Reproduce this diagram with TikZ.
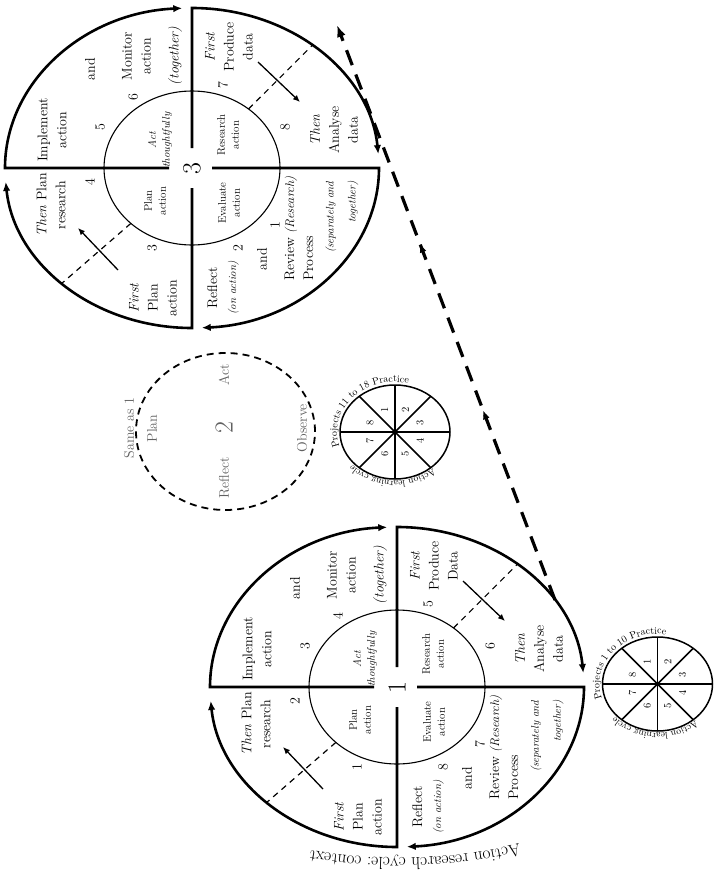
\documentclass[tikz,border=0pt]{standalone}
\usetikzlibrary{arrows.meta,decorations.text,decorations.markings}
\tikzset{
  rim/.style={line width=2.6pt,-{Latex[length=9pt,width=7.5pt]}},
  innerring/.style={line width=1.1pt},
  sepline/.style={line width=1.2pt,dash pattern=on 6pt off 5pt},
  flowarrow/.style={line width=1.3pt,-{Latex[length=7pt,width=6pt]}},
  txt/.style={rotate=90,align=center,inner sep=0pt,font=\fontsize{14}{19}\selectfont},
  smalltxt/.style={rotate=90,align=center,inner sep=0pt,font=\fontsize{11}{14}\selectfont},
  bignum/.style={rotate=90,inner sep=0pt,font=\fontsize{26}{26}\selectfont},
  ghost/.style={txt,text=black!62},
  minitxt/.style={rotate=90,inner sep=0pt,font=\fontsize{10.5}{12}\selectfont},
  miniring/.style={line width=1.5pt},
  bigdash/.style={line width=3.2pt,dash pattern=on 16pt off 10pt,-{Latex[length=12pt,width=9pt]}},
  midtip/.style={decoration={markings,
      mark=at position 0.33 with {\arrow{Latex[length=9pt,width=7pt]}},
      mark=at position 0.62 with {\arrow{Latex[length=9pt,width=7pt]}}},
    postaction={decorate}}
}
\newcommand\wheel[1]{%
  \coordinate (#1-c) at (0,0);
  \draw[innerring] (#1-c) ellipse [x radius=88pt,y radius=77pt];
  \draw[rim] (-23,0) -- (-187,0) arc[start angle=180,end angle=93,x radius=187pt,y radius=160pt];
  \draw[rim] (0,20) -- (0,160) arc[start angle=90,end angle=5,x radius=187pt,y radius=160pt];
  \draw[rim] (20,0) -- (187,0) arc[start angle=0,end angle=-87,x radius=187pt,y radius=160pt];
  \draw[rim] (0,-20) -- (0,-160) arc[start angle=270,end angle=185,x radius=187pt,y radius=160pt];
  \draw[sepline] (50:88pt and 77pt) -- (50:187pt and 160pt);
  \draw[sepline] (226:88pt and 77pt) -- (226:187pt and 160pt);
  \coordinate (#1-a1s) at (66,106); \coordinate (#1-a1e) at (108,66);
  \draw[flowarrow] (#1-a1s) -- (#1-a1e);
  \coordinate (#1-a2s) at (-74,-102); \coordinate (#1-a2e) at (-114,-60);
  \draw[flowarrow] (#1-a2s) -- (#1-a2e);
  \node[bignum] (#1-ctr) at (0,-1) {\ctr};
  % upper left
  \node[txt] (#1-impl) at (-140,38) {Implement\\action};
  \node[txt] (#1-and1) at (-102,99) {and};
  \node[txt] (#1-mon) at (-40,112) {Monitor\\action\\[9pt]\textit{(together)}};
  \node[smalltxt] (#1-act) at (-32,28) {\textit{Act}\\\textit{thoughtfully}};
  \node[txt] (#1-nA) at (-92,41) {\nA};
  \node[txt] (#1-nB) at (-59,71) {\nB};
  % upper right
  \node[txt] (#1-prod) at (37,121) {\textit{First}\\Produce\\\dataword};
  \node[txt] (#1-anal) at (142,38) {\textit{Then}\\Analyse\\data};
  \node[smalltxt] (#1-res) at (36,33) {Research\\action};
  \node[txt] (#1-nC) at (31,83) {\nC};
  \node[txt] (#1-nD) at (93,41) {\nD};
  % lower left
  \node[txt] (#1-tplan) at (-141,-37) {\textit{Then} Plan\\research};
  \node[smalltxt] (#1-plan) at (-37,-33) {Plan\\action};
  \node[txt] (#1-fplan) at (-39,-130) {\textit{First}\\Plan\\action};
  \node[txt] (#1-nG) at (-40,-80) {\nG};
  \node[txt] (#1-nH) at (-102,-14) {\nH};
  % lower right
  \node[smalltxt] (#1-eval) at (37,-35) {Evaluate\\action};
  \node[txt] (#1-refl) at (31,-120) {Reflect\\{\fontsize{11}{14}\selectfont\textit{(on action)}}};
  \node[txt] (#1-and2) at (70,-91) {and};
  \node[txt,anchor=west,align=left] (#1-rev) at (107,-113) {Review {\fontsize{12.5}{14}\selectfont\textit{(Research)}}\\Process};
  \node[txt,anchor=east,align=right,font=\fontsize{11}{22}\selectfont] (#1-sep) at (150,-13) {\textit{(separately and}\\\textit{together)}};
  \node[txt] (#1-nE) at (83,-57) {\nE};
  \node[txt] (#1-nF) at (46,-80) {\nF};
}
\newcommand\miniwheel[2]{%
  \coordinate (#1-c) at (0,0);
  \draw[miniring] (#1-c) ellipse [x radius=55pt,y radius=47pt];
  \draw[miniring] (-55,0) -- (55,0);
  \draw[miniring] (0,-47) -- (0,47);
  \draw[miniring] (-35.7,-35.7) -- (35.7,35.7);
  \draw[miniring] (-35.7,35.7) -- (35.7,-35.7);
  \fill (#1-c) circle (2pt);
  \foreach \k/\a in {1/112.5,2/67.5,3/22.5,4/-22.5,5/-67.5,6/-112.5,7/-157.5,8/157.5}
    \node[minitxt] (#1-\k) at (\a:27pt and 24pt) {\k};
  \path[decorate,decoration={text along path,text={|\fontsize{10}{12}\selectfont|#2}}]
    (197:58pt and 50pt) arc[start angle=197,end angle=20,x radius=58pt,y radius=50pt];
  \path[decorate,decoration={text along path,text={|\fontsize{9.5}{11}\selectfont|Action learning cycle}}]
    (-48:57pt and 49pt) arc[start angle=-48,end angle=-195,x radius=57pt,y radius=49pt];
}
\begin{document}
\begin{tikzpicture}[x=1pt,y=1pt]
\useasboundingbox (0,-886) rectangle (713,0);
\fill[white] (0,-886) rectangle (713,0);

% cycle 3
\begin{scope}[shift={(192,-168)}]
  \def\nA{5}\def\nB{6}\def\nC{7}\def\nD{8}\def\nE{1}\def\nF{2}\def\nG{3}\def\nH{4}%
  \def\ctr{3}\def\dataword{data}%
  \wheel{w3}
\end{scope}

% cycle 1
\begin{scope}[shift={(397,-687)}]
  \def\nA{3}\def\nB{4}\def\nC{5}\def\nD{6}\def\nE{7}\def\nF{8}\def\nG{1}\def\nH{2}%
  \def\ctr{1}\def\dataword{Data}%
  \wheel{w1}
\end{scope}

% cycle 2
\begin{scope}[shift={(225.5,-431.5)}]
  \coordinate (c2-c) at (0,0);
  \draw[line width=1.8pt,dash pattern=on 7pt off 5pt] (c2-c) ellipse [x radius=89.5pt,y radius=78.5pt];
  \node[ghost] (c2-plan) at (-73.5,3) {Plan};
  \node[ghost] (c2-same) at (-96.5,3.5) {Same as 1};
  \node[ghost] (c2-act) at (-1.5,56.5) {Act};
  \node[ghost] (c2-refl) at (-1.5,-46.5) {Reflect};
  \node[ghost] (c2-obs) at (76.5,3.5) {Observe};
  \node[bignum,text=black!62] (c2-num) at (-1.5,3.5) {2};
\end{scope}

% action learning cycles
\begin{scope}[shift={(395,-432)}]
  \miniwheel{mA}{Projects 11 to 18 Practice}
\end{scope}
\begin{scope}[shift={(657.5,-684)}]
  \miniwheel{mB}{Projects 1 to 10 Practice}
\end{scope}

% context text
\path[decorate,decoration={text along path,text={|\fontsize{17.5}{19}\selectfont|Action research cycle: context}}]
  (519.1,-843.9) arc[start angle=-76.5,end angle=-112,radius=510pt];

% long dashed link
\coordinate (dstart) at (555,-600);
\coordinate (dend) at (337,-25);
\draw[bigdash,midtip] (dstart) -- (dend);
\end{tikzpicture}
\end{document}
